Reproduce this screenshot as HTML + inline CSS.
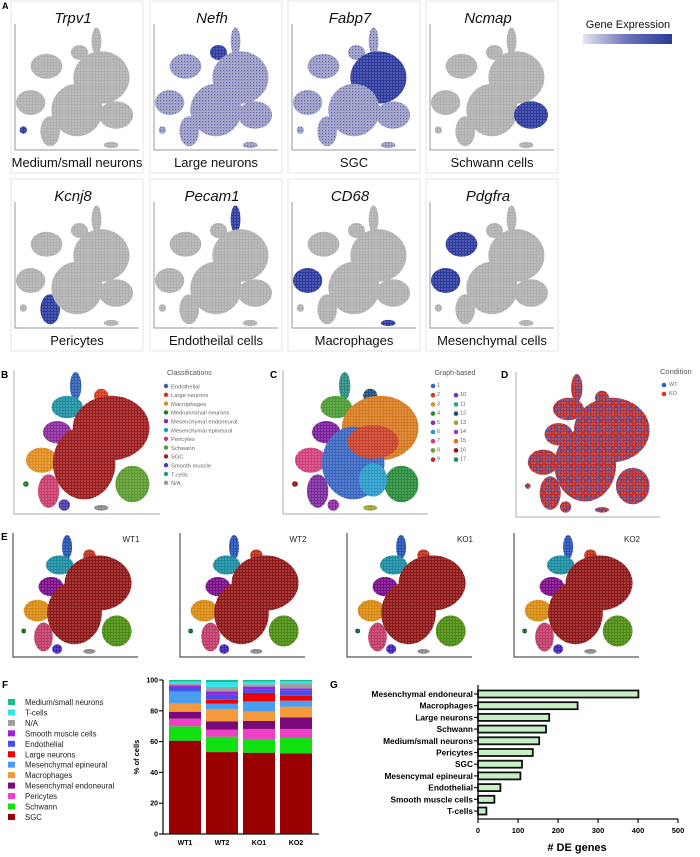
<!DOCTYPE html>
<html><head><meta charset="utf-8">
<style>
html,body{margin:0;padding:0;background:#fff;}
svg{display:block;font-family:"Liberation Sans",Arial,sans-serif;}
</style></head>
<body>
<svg id="fig" width="700" height="857" viewBox="0 0 700 857" xmlns="http://www.w3.org/2000/svg">
<defs>
<pattern id="speck" width="3" height="3" patternUnits="userSpaceOnUse">
<circle cx="1" cy="1" r="0.55" fill="#fff" opacity="0.8"/>
</pattern>
<pattern id="speck2" width="5" height="5" patternUnits="userSpaceOnUse">
<circle cx="1" cy="1" r="1.1" fill="#2f5fc8"/><circle cx="3.5" cy="3.2" r="0.9" fill="#3c6ad0"/>
</pattern>
<pattern id="speck3" width="3" height="3" patternUnits="userSpaceOnUse">
<circle cx="1.5" cy="1.5" r="0.6" fill="#3a3fa8" opacity="0.7"/>
</pattern>
<linearGradient id="gexp" x1="0" x2="1" y1="0" y2="0">
<stop offset="0" stop-color="#e4e4f0"/><stop offset="0.5" stop-color="#6a72b8"/><stop offset="1" stop-color="#2b3a98"/>
</linearGradient>
</defs>
<g id="panelA"></g>
<g id="panelBE"></g>
<g id="panelF"></g>
<g id="panelG"></g>
</svg>
<script>
// ---------- Panel F data ----------
const fSamples = ["WT1","WT2","KO1","KO2"];
const fCellTypes = ["SGC","Schwann","Pericytes","Mesenchymal endoneural","Macrophages","Mesenchymal epineural","Large neurons","Endothelial","Smooth muscle cells","N/A","T-cells","Medium/small neurons"];
const fColors = ["#9a0000","#10e010","#f040c8","#7a0a7a","#f59a3c","#4a9ef0","#f00000","#4450e8","#9a1fe0","#9e9e9e","#33e5e8","#1abc8a"];
const fSGC = [60.6,53.2,52.8,52.4];
const fSchwann = [9.3,10.0,8.9,9.9];
const fPericytes = [5.0,4.5,6.5,5.9];
const fMesEndo = [4.5,5.5,5.2,7.6];
const fMacro = [5.4,8.0,6.0,6.9];
const fMesEpi = [7.8,3.4,6.7,3.9];
const fLarge = [0.3,2.6,5.5,3.2];
const fEndo = [2.6,3.3,2.3,3.5];
const fSmooth = [1.0,2.1,1.8,1.3];
const fNA = [0.9,2.9,1.5,3.2];
const fTcells = [1.5,3.2,1.7,1.3];
const fMedSmall = [1.1,1.3,1.1,0.9];
const fYTicks = [0,20,40,60,80,100];
// ---------- Panel G data ----------
const gCategories = ["Mesenchymal endoneural","Macrophages","Large neurons","Schwann","Medium/small neurons","Pericytes","SGC","Mesencymal epineural","Endothelial","Smooth muscle cells","T-cells"];
const gValues = [401,249,178,170,153,137,110,106,56,41,21];
const gTicks = [0,100,200,300,400,500];

const NS="http://www.w3.org/2000/svg";
function mk(tag, attrs, parent, text){
  const e=document.createElementNS(NS,tag);
  for(const k in attrs) e.setAttribute(k,attrs[k]);
  if(text!==undefined) e.textContent=text;
  parent.appendChild(e); return e;
}

// ---------- t-SNE style drawing ----------
const layoutA = [
 {cx:.66,cy:.13,rx:.04,ry:.11},
 {cx:.52,cy:.22,rx:.07,ry:.06},
 {cx:.25,cy:.33,rx:.13,ry:.1},
 {cx:.12,cy:.62,rx:.12,ry:.1},
 {cx:.28,cy:.85,rx:.08,ry:.12},
 {cx:.7,cy:.42,rx:.23,ry:.21},
 {cx:.5,cy:.68,rx:.21,ry:.21},
 {cx:.82,cy:.72,rx:.14,ry:.11},
 {cx:.78,cy:.96,rx:.06,ry:.025},
 {cx:.06,cy:.84,rx:.03,ry:.03}
];
function drawA(g, x0, y0, w, h, tint, hi){
  layoutA.forEach((c,i)=>{
    let fill = "#b0b0b0";
    if(tint) fill="#9ea0c6";
    if(hi.indexOf(i)>=0) fill="#2d3a9e";
    const e=mk("ellipse",{cx:x0+c.cx*w,cy:y0+c.cy*h,rx:c.rx*w,ry:c.ry*h,fill:fill},g);
    
    
    mk("ellipse",{cx:x0+c.cx*w,cy:y0+c.cy*h,rx:c.rx*w,ry:c.ry*h,fill:"url(#speck)"},g);
    if(tint && hi.indexOf(i)<0) mk("ellipse",{cx:x0+c.cx*w,cy:y0+c.cy*h,rx:c.rx*w,ry:c.ry*h,fill:"url(#speck3)"},g);
  });
}
const layoutB = [
 {k:"endo",cx:.42,cy:.1,rx:.04,ry:.1},
 {k:"large",cx:.6,cy:.17,rx:.05,ry:.05},
 {k:"tcell",cx:.36,cy:.25,rx:.11,ry:.08},
 {k:"mesendo",cx:.29,cy:.43,rx:.1,ry:.08},
 {k:"macro",cx:.18,cy:.63,rx:.11,ry:.09},
 {k:"peri",cx:.23,cy:.85,rx:.075,ry:.12},
 {k:"sgc",cx:.67,cy:.4,rx:.27,ry:.23},
 {k:"sgc2",cx:.48,cy:.65,rx:.22,ry:.26},
 {k:"schwann",cx:.82,cy:.8,rx:.12,ry:.13},
 {k:"smooth",cx:.34,cy:.95,rx:.04,ry:.04},
 {k:"na",cx:.6,cy:.97,rx:.05,ry:.02},
 {k:"med",cx:.07,cy:.8,rx:.02,ry:.02}
];
const colB = {endo:"#2f5fb0",large:"#d63a1e",tcell:"#1e8fa0",mesendo:"#8b2a9b",macro:"#e08c1c",peri:"#c83c6e",sgc:"#9b1c1c",sgc2:"#9b1c1c",schwann:"#5a9a2e",smooth:"#4a3aa8",na:"#888",med:"#1f7a30"};
const colE = {endo:"#2550b0",large:"#c0301a",tcell:"#1a8aa0",mesendo:"#7a0a88",macro:"#d88a10",peri:"#c03a68",sgc:"#8e1616",sgc2:"#8e1616",schwann:"#4a8a10",smooth:"#4020b0",na:"#888",med:"#106020"};
const colC = {endo:"#2a8a80",large:"#1e4f7a",tcell:"#4a9a30",mesendo:"#7a1e9b",macro:"#d0407a",peri:"#7a2a9b",sgc:"#d67a20",sgc2:"#3a66c0",schwann:"#2a8a3a",smooth:"#8a2a9b",na:"#a0a030",med:"#8e1616"};
function drawB(g,x0,y0,w,h,cols,mode){
  layoutB.forEach(c=>{
    const e=mk("ellipse",{cx:x0+c.cx*w,cy:y0+c.cy*h,rx:c.rx*w,ry:c.ry*h,fill:mode==="D"?"#c8281e":cols[c.k]},g);
    
    
    mk("ellipse",{cx:x0+c.cx*w,cy:y0+c.cy*h,rx:c.rx*w,ry:c.ry*h,fill:"url(#speck)"},g);
    if(mode==="D") mk("ellipse",{cx:x0+c.cx*w,cy:y0+c.cy*h,rx:c.rx*w,ry:c.ry*h,fill:"url(#speck2)"},g);
  });
  if(mode==="C"){
    mk("ellipse",{cx:x0+.62*w,cy:y0+.5*h,rx:.18*w,ry:.12*h,fill:"#c8402a"},g);
    mk("ellipse",{cx:x0+.62*w,cy:y0+.77*h,rx:.1*w,ry:.12*h,fill:"#2a9ac8"},g);
    mk("ellipse",{cx:x0+.62*w,cy:y0+.5*h,rx:.18*w,ry:.12*h,fill:"url(#speck)"},g);
    mk("ellipse",{cx:x0+.62*w,cy:y0+.77*h,rx:.1*w,ry:.12*h,fill:"url(#speck)"},g);
  }
}

// ---------- Panel A ----------
const gA=document.getElementById("panelA");
mk("text",{x:2,y:9,"font-size":9,"font-weight":"bold"},gA,"A");
const genes=["Trpv1","Nefh","Fabp7","Ncmap","Kcnj8","Pecam1","CD68","Pdgfra"];
const cellLabels=["Medium/small neurons","Large neurons","SGC","Schwann cells","Pericytes","Endotheilal cells","Macrophages","Mesenchymal cells"];
const tints=[false,true,true,false,false,false,false,false];
const his=[[9],[1],[5],[7],[4],[0],[3,8],[2,3]];
const boxX=[11,150,288,426];
genes.forEach((gname,i)=>{
  const bx=boxX[i%4], by= i<4?1:179;
  const g=mk("g",{},gA);
  
  
  mk("rect",{x:bx,y:by,width:132,height:172,fill:"#fff",stroke:"#e6e6e6","stroke-width":1},g);
  const t=mk("text",{x:bx+62,y:by+22,"font-size":15,"font-style":"italic","text-anchor":"middle",fill:"#111"},g,gname);
  
  
  drawA(g,bx+5,by+24,122,125,tints[i],his[i]);
  mk("polyline",{points:`${bx+4},${by+23} ${bx+4},${by+149} ${bx+128},${by+149}`,fill:"none",stroke:"#999","stroke-width":1},g);
  const l=mk("text",{x:bx+66,y:by+166,"font-size":13,"text-anchor":"middle",fill:"#111"},g,cellLabels[i]);
  
  
});
const ge=mk("text",{x:628,y:28,"font-size":11,"text-anchor":"middle",fill:"#111"},gA,"Gene Expression");


const gb=mk("rect",{x:583,y:34,width:89,height:10,fill:"url(#gexp)"},gA);



// ---------- Panels B-E ----------
const gBE=document.getElementById("panelBE");
function axesL(g,x,yt,yb,xr,col){mk("polyline",{points:`${x},${yt} ${x},${yb} ${xr},${yb}`,fill:"none",stroke:col,"stroke-width":1.2},g);}
mk("text",{x:1,y:378,"font-size":10,"font-weight":"bold"},gBE,"B");
mk("text",{x:270,y:378,"font-size":10,"font-weight":"bold"},gBE,"C");
mk("text",{x:501,y:378,"font-size":10,"font-weight":"bold"},gBE,"D");
mk("text",{x:1,y:540,"font-size":10,"font-weight":"bold"},gBE,"E");
drawB(gBE,16,372,142,140,colB,"B"); axesL(gBE,14,370,514,160,"#bbb");
drawB(gBE,285,372,142,140,colC,"C"); axesL(gBE,283,370,514,428,"#bbb");
drawB(gBE,518,374,140,140,colB,"D"); axesL(gBE,516,372,517,660,"#bbb");
const bLeg=["Endothelial","Large neurons","Macrophages","Medium/small neurons","Mesenchymal endoneural","Mesenchymal epineural","Pericytes","Schwann","SGC","Smooth muscle","T-cells","N/A"];
const bLegC=["#2f5fb0","#d63a1e","#e08c1c","#1f7a30","#8b2a9b","#1e9ad0","#c83c6e","#5a9a2e","#9b1c1c","#4a3aa8","#1e9a90","#999"];
mk("text",{x:167,y:375,"font-size":7,fill:"#555"},gBE,"Classifications");
bLeg.forEach((s,i)=>{
  const y=386+i*8.8;
  const c=mk("circle",{cx:166,cy:y,r:2.2,fill:bLegC[i]},gBE);
  
  
  mk("text",{x:171,y:y+2.3,"font-size":5.8,fill:"#666"},gBE,s);
});
mk("text",{x:455,y:375,"font-size":7,fill:"#555","text-anchor":"middle"},gBE,"Graph-based");
const cLegC=["#3a66c0","#c8402a","#e0902a","#2a8a3a","#8a2a9b","#2a9ac8","#d0407a","#6aa030","#c03030","#6a3aa8","#2aa090","#1e4f7a","#a0a030","#a040b0","#e07020","#8e1616","#2a8a50"];
cLegC.forEach((c,i)=>{
  const col=i<9?0:1, row=i<9?i:i-8;
  const x=col?456:433, y=386+row*9.2;
  const m=mk("circle",{cx:x,cy:y,r:2.3,fill:c},gBE);
  
  
  mk("text",{x:x+4,y:y+1,"font-size":5.5,fill:"#666"},gBE,String(i+1));
});
mk("text",{x:660,y:374,"font-size":7.5,fill:"#555"},gBE,"Condition");
mk("circle",{cx:664,cy:385,r:2.3,fill:"#2f5fc8"},gBE); mk("text",{x:669,y:386,"font-size":5.5,fill:"#666"},gBE,"WT");
mk("circle",{cx:664,cy:394,r:2.3,fill:"#e0301e"},gBE); mk("text",{x:669,y:395,"font-size":5.5,fill:"#666"},gBE,"KO");
const eNames=["WT1","WT2","KO1","KO2"];
const eX=[13,180,347,514];
eNames.forEach((n,i)=>{
  const g=mk("g",{},gBE);
  
  
  drawB(g,eX[i]+2,535,124,120,colE,"E");
  axesL(g,eX[i],533,657,eX[i]+125,"#555");
  mk("text",{x:eX[i]+118,y:542,"font-size":8,fill:"#222","text-anchor":"middle"},g,n);
});

// ---------- Panel F ----------
const gF=document.getElementById("panelF");
mk("text",{x:2,y:688,"font-size":10,"font-weight":"bold"},gF,"F");
const fSeries=[fSGC,fSchwann,fPericytes,fMesEndo,fMacro,fMesEpi,fLarge,fEndo,fSmooth,fNA,fTcells,fMedSmall];
for(let j=fCellTypes.length-1, r=0; j>=0; j--, r++){
  const y=699+r*10.45;
  const sq=mk("rect",{x:8,y:y,width:7,height:6,fill:fColors[j]},gF);
  
  
  mk("text",{x:25,y:y+6,"font-size":7.8,fill:"#222"},gF,fCellTypes[j]);
}
const fy=v=>834-v*1.54;
const fx=i=>169+i*37;
fSamples.forEach((s,i)=>{
  let acc=0;
  fSeries.forEach((ser,j)=>{
    const r=mk("rect",{x:fx(i),y:fy(acc+ser[i]),width:32,height:fy(acc)-fy(acc+ser[i]),fill:fColors[j]},gF);
    
    
    acc+=ser[i];
  });
  mk("text",{x:fx(i)+16,y:845,"font-size":7,"font-weight":"bold","text-anchor":"middle"},gF,s);
});
mk("line",{x1:163,y1:fy(100),x2:163,y2:834,stroke:"#111","stroke-width":1.3},gF);
mk("line",{x1:163,y1:834,x2:319,y2:834,stroke:"#111","stroke-width":1.3},gF);
fYTicks.forEach(t=>{
  mk("line",{x1:159,y1:fy(t),x2:163,y2:fy(t),stroke:"#111","stroke-width":1.2},gF);
  mk("text",{x:158,y:fy(t)+2.5,"font-size":7,"font-weight":"bold","text-anchor":"end"},gF,String(t));
});
const fyl=mk("text",{x:0,y:0,"font-size":7.5,"font-weight":"bold","text-anchor":"middle",transform:"translate(139,757) rotate(-90)"},gF,"% of cells");



// ---------- Panel G ----------
const gG=document.getElementById("panelG");
mk("text",{x:330,y:688,"font-size":10,"font-weight":"bold"},gG,"G");
const gx=v=>478+v*0.4;
const gy=i=>694+i*11.7;
gValues.forEach((v,i)=>{
  const r=mk("rect",{x:gx(0),y:gy(i)-3.5,width:gx(v)-gx(0),height:7,fill:"#c6efc6",stroke:"#111","stroke-width":1.8},gG);
  
  
  mk("line",{x1:474,y1:gy(i),x2:478,y2:gy(i),stroke:"#111","stroke-width":1.2},gG);
  mk("text",{x:473,y:gy(i)+3,"font-size":8.3,"font-weight":"bold","text-anchor":"end"},gG,gCategories[i]);
});
mk("line",{x1:478,y1:685,x2:478,y2:819,stroke:"#111","stroke-width":1.3},gG);
mk("line",{x1:478,y1:819,x2:678,y2:819,stroke:"#111","stroke-width":1.3},gG);
gTicks.forEach(t=>{
  mk("line",{x1:gx(t),y1:819,x2:gx(t),y2:823,stroke:"#111","stroke-width":1.2},gG);
  mk("text",{x:gx(t),y:833,"font-size":7.5,"font-weight":"bold","text-anchor":"middle"},gG,String(t));
});
const gxl=mk("text",{x:577,y:851,"font-size":11,"font-weight":"bold","text-anchor":"middle"},gG,"# DE genes");


</script>
</body></html>
